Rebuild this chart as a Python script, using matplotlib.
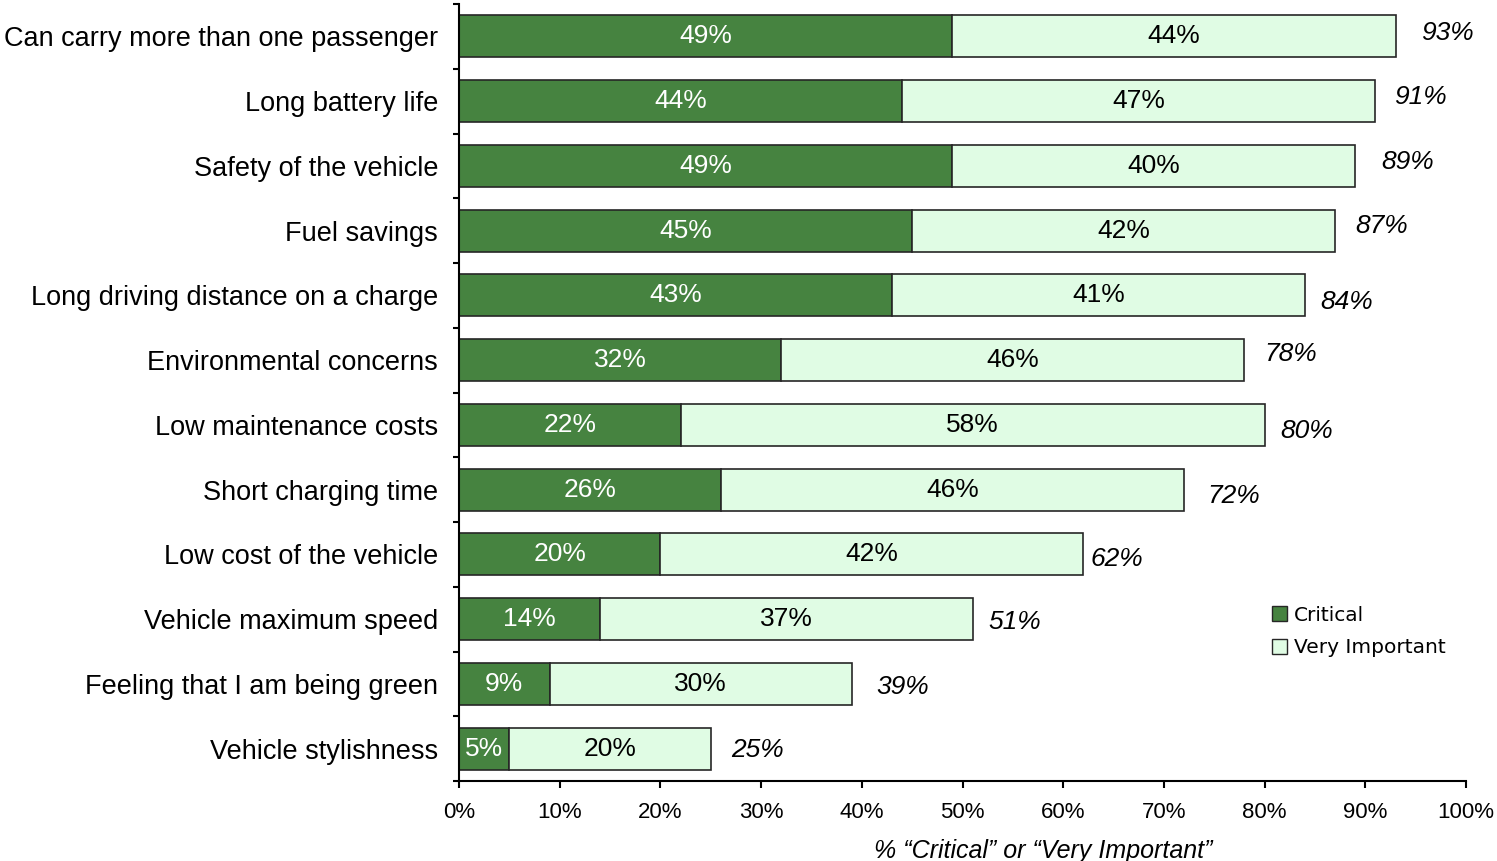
import numpy as np
import matplotlib.pyplot as plt
from matplotlib.patches import Patch

categories = [
    "Can carry more than one passenger",
    "Long battery life",
    "Safety of the vehicle",
    "Fuel savings",
    "Long driving distance on a charge",
    "Environmental concerns",
    "Low maintenance costs",
    "Short charging time",
    "Low cost of the vehicle",
    "Vehicle maximum speed",
    "Feeling that I am being green",
    "Vehicle stylishness",
]
critical = [49, 44, 49, 45, 43, 32, 22, 26, 20, 14, 9, 5]
very_important = [44, 47, 40, 42, 41, 46, 58, 46, 42, 37, 30, 20]
totals = [93, 91, 89, 87, 84, 78, 80, 72, 62, 51, 39, 25]

# nudges of the total labels (pixels), as placed in the original
total_dx = [26, 19, 26, 20, 15, 20, 16, 23, 7, 16, 25, 20]
total_dy = [-3, -4, -4, -5, 7, -6, 6, 6, 5, 3, 3, 1]

dark = "#468340"
light = "#e0fce4"
edge = "#262626"
font = "Liberation Sans"

fig = plt.figure(figsize=(14.97, 8.61), dpi=100)
ax = fig.add_axes([459 / 1497, 1 - 781 / 861, 1007 / 1497, 777 / 861])

y = np.arange(len(categories))
ax.barh(y, critical, height=0.65, color=dark, edgecolor=edge, linewidth=1.2)
ax.barh(y, very_important, left=critical, height=0.65, color=light,
        edgecolor=edge, linewidth=1.2)

for i in range(len(categories)):
    ax.text(critical[i] / 2, i, f"{critical[i]}%", ha="center", va="center",
            color="white", fontsize=19, family=font)
    ax.text(critical[i] + very_important[i] / 2, i, f"{very_important[i]}%",
            ha="center", va="center", color="black", fontsize=19, family=font)
    ax.annotate(f"{totals[i]}%", (critical[i] + very_important[i], i),
                xytext=(total_dx[i] * 0.72, -total_dy[i] * 0.72),
                textcoords="offset points", ha="left", va="center",
                fontsize=19, style="italic", family=font)

ax.set_xlim(0, 100)
ax.set_ylim(len(categories) - 0.5, -0.5)
ax.set_xticks(np.arange(0, 101, 10))
ax.set_xticklabels([f"{v}%" for v in range(0, 101, 10)], family=font, fontsize=16)
ax.set_yticks(y)
ax.set_yticklabels(categories, family=font, fontsize=19.5)
ax.set_yticks(np.arange(-0.5, len(categories), 1), minor=True)
ax.tick_params(axis="y", which="major", length=0, pad=15)
ax.tick_params(axis="y", which="minor", length=4, width=1.5)
ax.tick_params(axis="x", length=5, width=1.5, pad=10)

for s in ["top", "right"]:
    ax.spines[s].set_visible(False)
for s in ["left", "bottom"]:
    ax.spines[s].set_linewidth(1.5)

ax.text(0.58, -0.075, "% \u201cCritical\u201d or \u201cVery Important\u201d",
        transform=ax.transAxes, ha="center", va="top", fontsize=18,
        style="italic", family=font)

handles = [Patch(facecolor=dark, edgecolor=edge, label="Critical"),
           Patch(facecolor=light, edgecolor=edge, label="Very Important")]
ax.legend(handles=handles, loc="upper left", bbox_to_anchor=(0.793, 0.244),
          frameon=False, handlelength=0.75, handleheight=0.75,
          handletextpad=0.35, labelspacing=0.68, borderpad=0.2,
          prop={"family": "DejaVu Sans", "size": 14.5})

fig.savefig("out.png", dpi=100)
